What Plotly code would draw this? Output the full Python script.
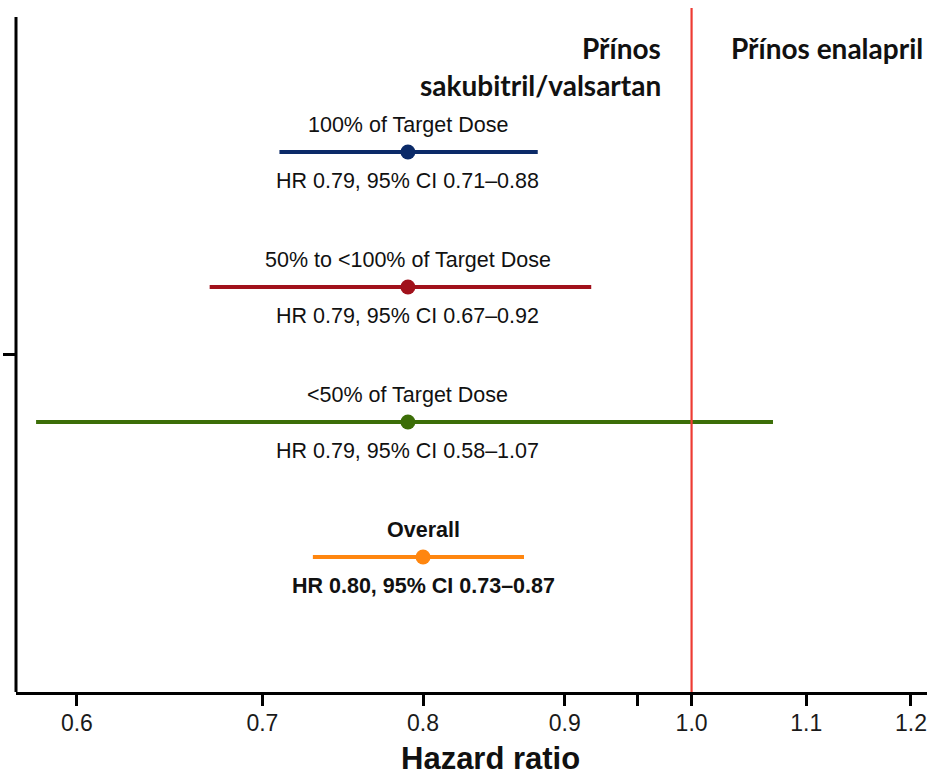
import math
import plotly.graph_objects as go

# Subgroups by achieved dose, plus the overall estimate
groups = ["100% of Target Dose", "50% to <100% of Target Dose", "<50% of Target Dose", "Overall"]
hr = [0.79, 0.79, 0.79, 0.80]
ci_low = [0.71, 0.67, 0.58, 0.73]
ci_high = [0.88, 0.92, 1.07, 0.87]
rows = [4, 3, 2, 1]
colors = ["#0B2A68", "#A1111B", "#3C6E08", "#FF860F"]

ref_line = 1.0
x_ticks = [0.6, 0.7, 0.8, 0.9, 0.956, 1.0, 1.1, 1.2]
x_tick_text = ["0.6", "0.7", "0.8", "0.9", "", "1.0", "1.1", "1.2"]
x_range = [0.5704, 1.2161]
y_top = 5.0667

TXT = "#111111"
SANS = "Liberation Sans, Arial, sans-serif"
HEAD = "Lato, sans-serif"

fig = go.Figure()

for g, h, lo, hi, r, c in zip(groups, hr, ci_low, ci_high, rows, colors):
    fig.add_trace(go.Scatter(x=[lo, hi], y=[r, r], mode="lines",
                             line=dict(color=c, width=4), hoverinfo="skip",
                             showlegend=False))
    fig.add_trace(go.Scatter(x=[h], y=[r], mode="markers",
                             marker=dict(color=c, size=15), name=g,
                             showlegend=False))

# line of no effect
fig.add_trace(go.Scatter(x=[ref_line, ref_line], y=[0, y_top], mode="lines",
                         line=dict(color="#EE3B33", width=2.2),
                         hoverinfo="skip", showlegend=False))

annotations = []
for g, h, lo, hi, r in zip(groups, hr, ci_low, ci_high, rows):
    bold = g == "Overall"
    label = f"<b>{g}</b>" if bold else g
    stat = f"HR {h:.2f}, 95% CI {lo:.2f}–{hi:.2f}"
    if bold:
        stat = f"<b>{stat}</b>"
    annotations.append(dict(x=math.log10(h), y=r, xref="x", yref="y", text=label,
                            showarrow=False, yshift=27, xanchor="center",
                            yanchor="middle", font=dict(family=SANS, size=21.5, color=TXT)))
    annotations.append(dict(x=math.log10(h), y=r, xref="x", yref="y", text=stat,
                            showarrow=False, yshift=-29, xanchor="center",
                            yanchor="middle", font=dict(family=SANS, size=21.5, color=TXT)))

head_font = dict(family=HEAD, size=28, color=TXT)
annotations += [
    dict(x=math.log10(ref_line), y=0.9415, xref="x", yref="paper", text="<b>Přínos</b>",
         showarrow=False, xanchor="right", yanchor="middle", xshift=-29, font=head_font),
    dict(x=math.log10(ref_line), y=0.8874, xref="x", yref="paper",
         text="<b>sakubitril/valsartan</b>",
         showarrow=False, xanchor="right", yanchor="middle", xshift=-29, font=head_font),
    dict(x=math.log10(ref_line), y=0.9415, xref="x", yref="paper",
         text="<b>Přínos enalapril</b>",
         showarrow=False, xanchor="left", yanchor="middle", xshift=37, font=head_font),
    dict(x=0.521, y=0, xref="paper", yref="paper", text="<b>Hazard ratio</b>",
         showarrow=False, xanchor="center", yanchor="bottom", yshift=-86,
         font=dict(family=SANS, size=31, color=TXT)),
]

fig.update_layout(
    width=936, height=778,
    margin=dict(l=16, r=9, t=8, b=86),
    paper_bgcolor="white", plot_bgcolor="white",
    annotations=annotations,
    shapes=[dict(type="line", xref="paper", yref="y", x0=0, x1=0, y0=0, y1=5,
                 line=dict(color="black", width=3))],
    xaxis=dict(type="log", range=[math.log10(x_range[0]), math.log10(x_range[1])],
               tickmode="array", tickvals=x_ticks, ticktext=x_tick_text,
               ticks="outside", ticklen=11, tickwidth=3, tickcolor="black",
               showline=True, linewidth=3, linecolor="black",
               showgrid=False, zeroline=False, automargin=False,
               ticklabelstandoff=-3,
               tickfont=dict(family=SANS, size=23, color="#1a1a1a")),
    yaxis=dict(range=[0, y_top], tickmode="array", tickvals=[2.5], ticktext=[""],
               ticks="outside", ticklen=12, tickwidth=3, tickcolor="black",
               showline=False, showgrid=False, zeroline=False, automargin=False),
)

fig.write_html("out.html")
